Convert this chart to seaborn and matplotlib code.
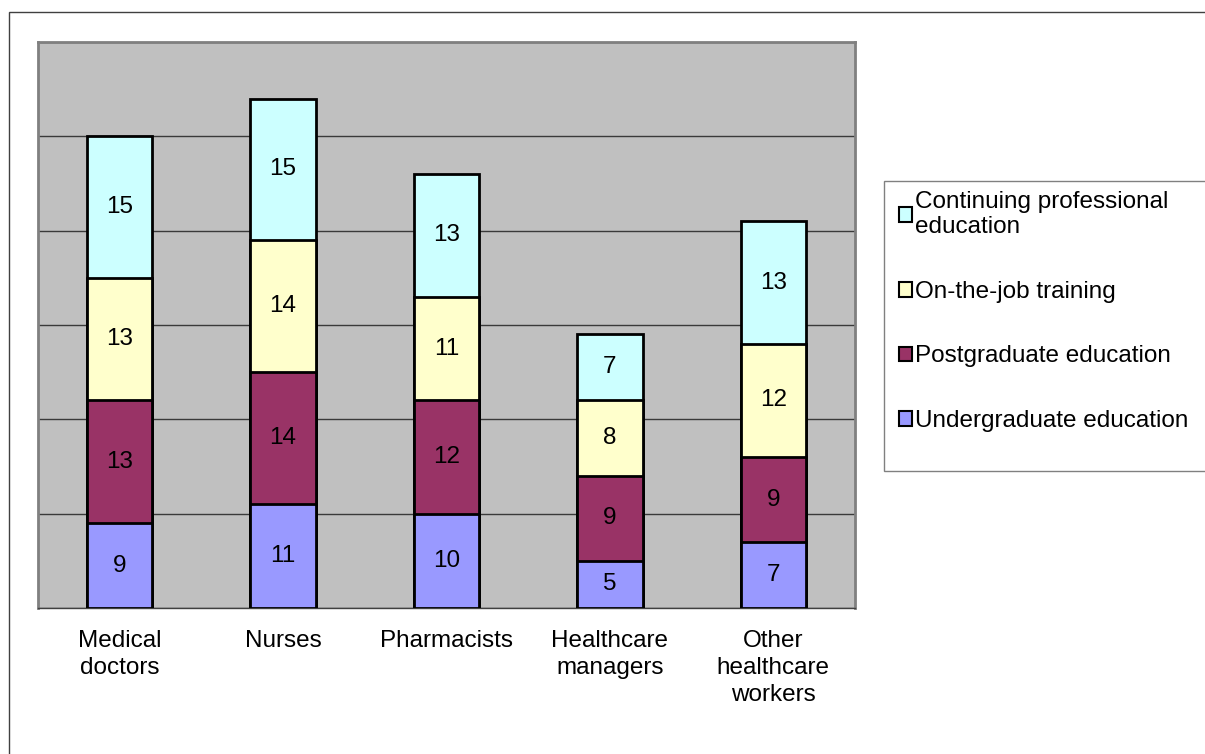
import numpy as np
import matplotlib
matplotlib.use('Agg')
import matplotlib.pyplot as plt
from matplotlib.patches import Rectangle
import seaborn as sns

# data
categories = ['Medical\ndoctors', 'Nurses', 'Pharmacists', 'Healthcare\nmanagers',
              'Other\nhealthcare\nworkers']
undergraduate = [9, 11, 10, 5, 7]
postgraduate = [13, 14, 12, 9, 9]
on_the_job = [13, 14, 11, 8, 12]
continuing = [15, 15, 13, 7, 13]

series_names = ['Undergraduate education', 'Postgraduate education',
                'On-the-job training', 'Continuing professional\neducation']
series_values = [undergraduate, postgraduate, on_the_job, continuing]
colors = ['#9999FF', '#993366', '#FFFFCC', '#CCFFFF']

sns.set_style('white')
plt.rcParams['font.family'] = ['Liberation Sans', 'DejaVu Sans']
plt.rcParams['text.color'] = 'black'
plt.rcParams['xtick.color'] = 'black'
plt.rcParams['xtick.labelcolor'] = 'black'
fs = 17.5

W, H = 1205, 754
fig = plt.figure(figsize=(W / 100, H / 100), dpi=100)
ax = fig.add_axes([38 / W, 1 - 608 / H, 817 / W, 566 / H])
ax.set_facecolor('#C0C0C0')

vals = np.array(series_values)
cum = np.cumsum(vals, axis=0)

# stack by overplotting cumulative totals, tallest first
handles = {}
for k in range(len(series_names) - 1, -1, -1):
    sns.barplot(x=categories, y=cum[k], color=colors[k], saturation=1, width=0.4,
                edgecolor='black', linewidth=2, ax=ax, zorder=3)
    handles[k] = ax.containers[-1].patches[0]

# segment labels
for k in range(len(series_names)):
    for i in range(len(categories)):
        base = cum[k][i] - vals[k][i]
        ax.text(i, base + vals[k][i] / 2, str(vals[k][i]), ha='center', va='center',
                fontsize=fs, color='black', zorder=5)

ax.set_ylim(0, 60)
ax.set_xlim(-0.5, len(categories) - 0.5)
ax.set_yticks(np.arange(0, 61, 10))
ax.set_yticklabels([])
ax.yaxis.grid(True, color='#3a3a3a', linewidth=1)
ax.set_axisbelow(True)
ax.tick_params(axis='y', length=0)
ax.set_xlabel('')
ax.set_ylabel('')

ax.set_xticks(range(len(categories)))
ax.set_xticklabels(categories, fontsize=fs, linespacing=1.3, color='black')
ax.set_xticks(np.arange(-0.5, len(categories), 1), minor=True)
ax.tick_params(axis='x', which='major', length=0, pad=16)
ax.tick_params(axis='x', which='minor', length=6, width=1, color='#555555', direction='out')

for side in ['left', 'top', 'right']:
    ax.spines[side].set_color('#808080')
    ax.spines[side].set_linewidth(2)
ax.spines['bottom'].set_color('#404040')
ax.spines['bottom'].set_linewidth(1)

# legend frame + entries (reverse order like the original)
fig.patches.append(Rectangle((884 / W, 1 - 471 / H), 330 / W, 290 / H,
                             transform=fig.transFigure, facecolor='white',
                             edgecolor='#808080', linewidth=1, zorder=0))
order = [3, 2, 1, 0]
leg = fig.legend([handles[k] for k in order], [series_names[k] for k in order],
                 loc='upper left', bbox_to_anchor=(899 / W, 1 - 191 / H),
                 frameon=False, fontsize=fs, borderpad=0, borderaxespad=0,
                 handlelength=0.55, handleheight=0.55, handletextpad=0.12,
                 labelspacing=1.75)
for h in leg.legend_handles:
    h.set_linewidth(1.5)
for t in leg.get_texts():
    t.set_color('black')

# outer chart border
fig.patches.append(Rectangle((9 / W, -0.1), 1.2, (H - 12) / H + 0.1,
                             transform=fig.transFigure, facecolor='none',
                             edgecolor='#404040', linewidth=1))

fig.savefig('out.png', dpi=100, facecolor='white')
